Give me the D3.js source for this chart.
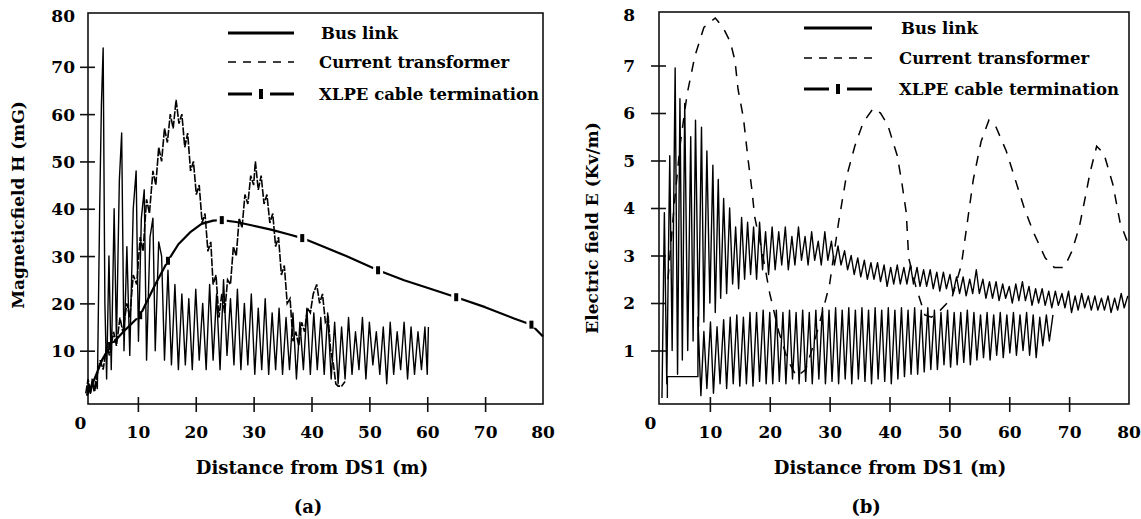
<!DOCTYPE html>
<html>
<head>
<meta charset="utf-8">
<script src="https://cdn.jsdelivr.net/npm/d3@7"></script>
<style>
  body { margin: 0; background: #fff; }
  svg text { font-family: "DejaVu Serif", serif; font-weight: bold; fill: #000; }
</style>
</head>
<body>
<div id="chart"></div>
<script>
// ticks
const distTicks = [0, 10, 20, 30, 40, 50, 60, 70, 80];
const hTicks = [10, 20, 30, 40, 50, 60, 70, 80];
const eTicks = [1, 2, 3, 4, 5, 6, 7, 8];

const seriesNames = ['Bus link', 'Current transformer', 'XLPE cable termination'];

// (a) magnetic field H (mG) vs distance (m)
const hBusLink = [
  [1.2, 0.5], [1.5, 3], [1.8, 1], [2.1, 4], [2.4, 1.5], [2.7, 3.5], [3.0, 2], [3.4, 40], [3.7, 62], [4.0, 74],
  [4.3, 20], [4.6, 4], [5.0, 30], [5.4, 6], [5.9, 40], [6.3, 12], [6.8, 46], [7.2, 56], [7.6, 10], [8.1, 32],
  [8.6, 9], [9.2, 40], [9.7, 48], [10.1, 12], [10.6, 38], [11.1, 44], [11.5, 8], [12.1, 34], [12.6, 38], [13.0, 10],
  [13.6, 33], [14.1, 30], [14.6, 8], [15.2, 27], [15.8, 7], [16.4, 24], [17.0, 6], [17.6, 22], [18.2, 7], [18.8, 21],
  [19.4, 6], [20.0, 23], [20.6, 8], [21.2, 20], [21.8, 6], [22.4, 24], [23.0, 8], [23.6, 22], [24.2, 6], [24.8, 25],
  [25.4, 9], [26.0, 21], [26.6, 7], [27.2, 23], [27.8, 6], [28.4, 20], [29.0, 7], [29.6, 22], [30.2, 5], [30.8, 19],
  [31.4, 6], [32.0, 21], [32.6, 5], [33.2, 18], [33.8, 6], [34.4, 19], [35.0, 5], [35.6, 17], [36.2, 6], [36.8, 18],
  [37.4, 4], [38.0, 16], [38.6, 6], [39.2, 19], [39.8, 5], [40.4, 18], [41.0, 6], [41.6, 17], [42.2, 5], [42.8, 18],
  [43.4, 4], [44.0, 16], [44.6, 3], [45.2, 15], [45.8, 4], [46.4, 17], [47.0, 5], [47.6, 14], [48.2, 6], [48.8, 17],
  [49.4, 4], [50.0, 16], [50.6, 7], [51.2, 14], [51.8, 5], [52.4, 15], [53.0, 3], [53.6, 16], [54.2, 5], [54.8, 14],
  [55.4, 6], [56.0, 16], [56.6, 4], [57.2, 15], [57.8, 5], [58.4, 14], [59.0, 6], [59.6, 15], [60.0, 5], [60.2, 15]
];
const hCurrentTr = [
  [1.0, 1], [1.4, 4], [1.8, 1], [2.2, 3], [2.6, 1.5], [3.0, 5], [3.5, 8], [4.0, 6], [4.6, 11], [5.1, 9],
  [5.8, 14], [6.3, 11], [6.9, 17], [7.4, 14], [8.1, 20], [8.6, 17], [9.2, 26], [9.8, 24], [10.4, 34], [10.9, 31],
  [11.5, 42], [12.0, 39], [12.6, 48], [13.1, 45], [13.6, 53], [14.1, 50], [14.6, 57], [15.1, 54], [15.6, 60], [16.1, 57],
  [16.6, 63], [17.1, 58], [17.6, 60], [18.1, 53], [18.6, 56], [19.1, 48], [19.6, 50], [20.1, 43], [20.6, 45], [21.1, 37],
  [21.6, 39], [22.1, 31], [22.6, 33], [23.0, 24], [23.5, 26], [24.0, 17], [24.5, 22], [25.0, 18], [25.5, 25], [26.0, 24],
  [26.5, 32], [27.0, 30], [27.5, 38], [28.0, 36], [28.5, 43], [29.0, 41], [29.5, 47], [30.0, 45], [30.3, 50], [30.8, 44],
  [31.3, 47], [31.8, 41], [32.3, 43], [32.8, 37], [33.3, 39], [33.8, 32], [34.3, 34], [34.8, 26], [35.3, 28], [35.8, 20],
  [36.3, 21], [36.8, 12], [37.3, 14], [37.8, 11], [38.3, 16], [38.8, 14], [39.3, 19], [39.8, 18], [40.3, 22], [40.9, 24],
  [41.4, 20], [41.9, 22], [42.4, 16], [42.9, 17], [43.3, 10], [43.8, 7], [44.2, 3], [44.6, 2.5], [45.2, 2.5], [45.8, 3.5]
];
const hXlpe = [
  [1.2, 0.5], [2.5, 4], [3.8, 8], [5.2, 11], [7.5, 14], [10.4, 17.5], [13.0, 24], [15.2, 29], [17.0, 32.5], [19.0, 35],
  [21.0, 36.8], [23.0, 37.5], [24.5, 37.6], [27.0, 37.2], [30.0, 36.4], [33.0, 35.6], [36.0, 34.6], [38.4, 33.8], [42.0, 32], [46.0, 30],
  [51.5, 27], [56.0, 24.9], [60.0, 23.3], [65.0, 21.3], [70.0, 19.2], [75.0, 16.8], [78.0, 15.5], [80.0, 13]
];
const hXlpeMarks = [[5.2, 11], [10.4, 17.5], [15.2, 29], [24.5, 37.6], [38.4, 33.8], [51.5, 27], [65.0, 21.3], [78.0, 15.5]];

// (b) electric field E (kV/m) vs distance (m)
const eBusLink = [
  [2.9, 0.0], [2.9, 0.45], [8.0, 0.45], [8.0, 1.7], [8.5, 0.05], [9.0, 1.4], [9.5, 0.2], [10.1, 1.6], [10.6, 0.1], [11.2, 1.5],
  [11.7, 0.3], [12.3, 1.65], [12.8, 0.2], [13.4, 1.7], [13.9, 0.3], [14.5, 1.75], [15.0, 0.25], [15.6, 1.7], [16.1, 0.3], [16.7, 1.8],
  [17.2, 0.25], [17.8, 1.8], [18.3, 0.35], [18.9, 1.85], [19.4, 0.3], [20.0, 1.8], [20.5, 0.3], [21.1, 1.85], [21.6, 0.35], [22.2, 1.8],
  [22.7, 0.3], [23.3, 1.85], [23.8, 0.4], [24.4, 1.8], [24.9, 0.3], [25.5, 1.85], [26.0, 0.35], [26.6, 1.8], [27.1, 0.3], [27.7, 1.85],
  [28.2, 0.4], [28.8, 1.9], [29.3, 0.3], [29.9, 1.85], [30.4, 0.35], [31.0, 1.9], [31.5, 0.3], [32.1, 1.85], [32.6, 0.4], [33.2, 1.9],
  [33.7, 0.3], [34.3, 1.85], [34.8, 0.4], [35.4, 1.9], [35.9, 0.35], [36.5, 1.85], [37.0, 0.3], [37.6, 1.9], [38.1, 0.4], [38.7, 1.85],
  [39.2, 0.35], [39.8, 1.9], [40.3, 0.3], [40.9, 1.85], [41.4, 0.4], [42.0, 1.9], [42.5, 0.45], [43.1, 1.85], [43.6, 0.5], [44.2, 1.9],
  [44.7, 0.5], [45.3, 1.85], [45.8, 0.55], [46.4, 1.9], [46.9, 0.6], [47.5, 1.85], [48.0, 0.6], [48.6, 1.8], [49.1, 0.7], [49.7, 1.85],
  [50.2, 0.65], [50.8, 1.8], [51.3, 0.7], [51.9, 1.8], [52.4, 0.75], [53.0, 1.85], [53.5, 0.7], [54.1, 1.8], [54.6, 0.8], [55.2, 1.75],
  [55.7, 0.85], [56.3, 1.8], [56.8, 0.8], [57.4, 1.75], [57.9, 0.9], [58.5, 1.8], [59.0, 0.85], [59.6, 1.75], [60.1, 0.95], [60.7, 1.8],
  [61.2, 0.9], [61.8, 1.75], [62.3, 1.0], [62.9, 1.8], [63.4, 0.9], [64.0, 1.75], [64.5, 0.85], [65.1, 1.7], [65.6, 1.1], [66.2, 1.75],
  [66.7, 1.2], [67.3, 1.75]
];
const eXlpe = [
  [2.0, 0.0], [2.4, 3.9], [2.8, 0.3], [3.3, 5.1], [3.7, 1.0], [4.2, 6.95], [4.6, 0.5], [5.0, 6.3], [5.4, 0.8], [5.8, 6.2],
  [6.3, 1.0], [6.8, 5.5], [7.2, 1.2], [7.6, 5.85], [8.1, 1.5], [8.6, 5.7], [9.0, 1.6], [9.5, 5.2], [10.0, 2.0], [10.5, 4.9],
  [10.9, 1.8], [11.4, 4.6], [11.8, 2.1], [12.3, 4.2], [12.8, 2.2], [13.3, 4.0], [13.8, 2.4], [14.3, 3.6], [14.8, 2.3], [15.3, 3.8],
  [15.8, 2.5], [16.3, 3.7], [16.8, 2.6], [17.3, 3.6], [17.8, 2.5], [18.3, 3.7], [18.8, 2.7], [19.3, 3.5], [19.8, 2.6], [20.4, 3.6],
  [20.9, 2.7], [21.5, 3.5], [22.0, 2.8], [22.6, 3.6], [23.1, 2.7], [23.7, 3.4], [24.2, 2.8], [24.8, 3.6], [25.3, 2.9], [25.9, 3.4],
  [26.4, 2.8], [27.0, 3.5], [27.5, 2.9], [28.1, 3.3], [28.6, 2.8], [29.2, 3.5], [29.7, 2.9], [30.3, 3.3], [30.8, 2.8], [31.4, 3.2],
  [31.9, 2.8], [32.5, 3.1], [33.0, 2.7], [33.6, 3.0], [34.1, 2.6], [34.7, 2.95], [35.2, 2.55], [35.8, 2.9], [36.3, 2.5], [36.9, 2.85],
  [37.4, 2.5], [38.0, 2.85], [38.5, 2.45], [39.1, 2.8], [39.6, 2.35], [40.2, 2.75], [40.7, 2.4], [41.3, 2.8], [41.8, 2.4], [42.4, 2.75],
  [42.9, 2.4], [43.5, 2.8], [44.0, 2.4], [44.6, 2.75], [45.1, 2.35], [45.7, 2.7], [46.2, 2.35], [46.8, 2.7], [47.3, 2.3], [47.9, 2.65],
  [48.4, 2.25], [49.0, 2.65], [49.5, 2.3], [50.1, 2.6], [50.6, 2.2], [51.2, 2.55], [51.7, 2.2], [52.3, 2.55], [52.8, 2.15], [53.4, 2.5],
  [53.9, 2.2], [54.5, 2.7], [55.0, 2.2], [55.6, 2.5], [56.1, 2.1], [56.7, 2.45], [57.2, 2.1], [57.8, 2.45], [58.3, 2.05], [58.9, 2.4],
  [59.4, 2.1], [60.0, 2.35], [60.5, 2.0], [61.1, 2.4], [61.6, 2.05], [62.2, 2.45], [62.7, 2.05], [63.3, 2.35], [63.8, 1.95], [64.4, 2.3],
  [64.9, 2.0], [65.5, 2.3], [66.0, 1.95], [66.6, 2.25], [67.1, 1.9], [67.7, 2.25], [68.2, 1.95], [68.8, 2.2], [69.3, 1.9], [69.9, 2.25],
  [70.4, 1.8], [71.0, 2.15], [71.5, 1.85], [72.1, 2.2], [72.6, 1.9], [73.2, 2.15], [73.7, 1.85], [74.3, 2.15], [74.8, 1.85], [75.4, 2.1],
  [75.9, 1.85], [76.5, 2.15], [77.0, 1.8], [77.6, 2.1], [78.1, 1.85], [78.7, 2.2], [79.2, 1.9], [79.8, 2.15]
];
const eCurrentTr = [
  [3.0, 2.5], [4.0, 4.0], [5.0, 5.3], [6.2, 6.4], [7.5, 7.2], [9.0, 7.8], [10.9, 8.0], [12.2, 7.8], [13.4, 7.5], [14.2, 7.1],
  [14.7, 6.5], [15.6, 5.9], [16.4, 5.0], [17.0, 4.4], [17.5, 3.8], [18.7, 3.1], [20.0, 2.2], [21.5, 1.4], [23.0, 0.8], [24.5, 0.45],
  [26.0, 0.6], [27.5, 1.2], [29.0, 1.9], [30.0, 2.4], [31.5, 3.7], [32.7, 4.6], [34.2, 5.3], [35.6, 5.8], [37.3, 6.1], [38.5, 6.0],
  [39.7, 5.75], [41.3, 5.1], [42.1, 4.5], [42.8, 3.9], [43.2, 2.95], [44.4, 2.35], [45.9, 1.75], [47.0, 1.7], [48.5, 1.85], [50.4, 2.1],
  [52.0, 2.8], [53.0, 3.7], [54.0, 4.6], [55.3, 5.4], [56.6, 5.85], [57.8, 5.7], [59.5, 5.2], [61.0, 4.6], [62.5, 4.0], [64.0, 3.5],
  [66.0, 2.95], [67.5, 2.75], [69.2, 2.75], [70.5, 3.1], [71.7, 3.6], [72.5, 4.1], [73.5, 4.75], [74.6, 5.3], [75.8, 5.15], [77.3, 4.5],
  [78.5, 3.7], [80.0, 3.2]
];

const Chart = {
  init() {
    this.svg = d3.select('#chart').append('svg')
      .attr('width', 1141)
      .attr('height', 519)
      .style('background', '#fff');

    this.panels = [
      {
        frame: { left: 88, right: 543, top: 13, bottom: 404 },
        xRange: [80, 543], yRange: [398, 19.5], yMax: 80, yTicks: hTicks, labelGap: 13,
        yTitle: 'Magneticfield H (mG)', yTitleX: 18, yTitleY: 205, xTitleX: 312, tag: '(a)', tagX: 308,
        legend: { x1: 228, x2: 294, ys: [33, 62, 94], textX: 319 },
        bus: hBusLink, ct: hCurrentTr, ctDash: '8,1.5', ctWidth: 1.6, xlpe: hXlpe, marks: hXlpeMarks,
      },
      {
        frame: { left: 659, right: 1129, top: 12, bottom: 404 },
        xRange: [650, 1129], yRange: [398, 18], yMax: 8, yTicks: eTicks, labelGap: 24,
        yTitle: 'Electric field E (Kv/m)', yTitleX: 592, yTitleY: 228, xTitleX: 890, tag: '(b)', tagX: 866,
        legend: { x1: 804, x2: 872, ys: [28, 58, 89], textX: 899 },
        bus: eBusLink, ct: eCurrentTr, ctDash: '10,9', ctWidth: 1.5, xlpe: eXlpe, marks: [],
      },
    ];

    this.panels.forEach((p) => this.drawPanel(p));
  },

  drawPanel(p) {
    const g = this.svg.append('g');
    const x = d3.scaleLinear().domain([0, 80]).range(p.xRange);
    const y = d3.scaleLinear().domain([0, p.yMax]).range(p.yRange);
    const f = p.frame;

    // frame
    g.append('rect')
      .attr('x', f.left).attr('y', f.top)
      .attr('width', f.right - f.left).attr('height', f.bottom - f.top)
      .attr('fill', 'none').attr('stroke', '#111').attr('stroke-width', 1.6);

    // y axis
    const ay = d3.axisLeft(y).tickValues(p.yTicks).tickSize(8).tickFormat(d3.format('d'));
    const ayCall = g.append('g').attr('transform', `translate(${f.left},0)`).call(ay);
    ayCall.select('.domain').remove();
    ayCall.selectAll('line')
      .attr('x1', -8).attr('x2', 7)
      .attr('stroke', '#111').attr('stroke-width', 1.6)
      .attr('display', (d) => (d === p.yMax ? 'none' : null));
    ayCall.selectAll('text')
      .attr('x', -p.labelGap)
      .attr('dy', '0.35em')
      .attr('font-size', '17px');
    ayCall.selectAll('.tick').filter((d) => d === p.yMax)
      .attr('transform', `translate(0,${f.top + 3})`);

    // x axis
    const ax = d3.axisBottom(x).tickValues(distTicks).tickSize(8).tickFormat(d3.format('d'));
    const axCall = g.append('g').attr('transform', `translate(0,${f.bottom})`).call(ax);
    axCall.select('.domain').remove();
    axCall.selectAll('line')
      .attr('y1', -7).attr('y2', 8)
      .attr('stroke', '#111').attr('stroke-width', 1.6)
      .attr('display', (d) => (d === 0 || d === 80 ? 'none' : null));
    axCall.selectAll('text')
      .attr('y', (d) => (d === 0 ? 19 : 28))
      .attr('dy', '0.35em')
      .attr('font-size', '17px');
    axCall.selectAll('.tick').filter((d) => d === 80)
      .attr('transform', `translate(${f.right},0)`);

    g.selectAll('.tick text').attr('fill', '#000');

    const line = d3.line()
      .x((d) => x(d[0]))
      .y((d) => y(d[1]))
      .curve(d3.curveLinear);

    // XLPE cable termination
    const xlpeIsZigzag = p.marks.length === 0;
    g.append('path')
      .attr('d', line(p.xlpe))
      .attr('fill', 'none')
      .attr('stroke', '#000')
      .attr('stroke-width', xlpeIsZigzag ? 1.4 : 2.2)
      .attr('stroke-linejoin', 'round');

    g.selectAll('.mark-gap').data(p.marks).join('rect')
      .attr('class', 'mark-gap')
      .attr('x', (d) => x(d[0]) - 5).attr('y', (d) => y(d[1]) - 3)
      .attr('width', 10).attr('height', 6)
      .attr('fill', '#fff');
    g.selectAll('.mark').data(p.marks).join('rect')
      .attr('class', 'mark')
      .attr('x', (d) => x(d[0]) - 2).attr('y', (d) => y(d[1]) - 4)
      .attr('width', 4).attr('height', 8)
      .attr('fill', '#000');

    // current transformer
    g.append('path')
      .attr('d', line(p.ct))
      .attr('fill', 'none')
      .attr('stroke', '#000')
      .attr('stroke-width', p.ctWidth)
      .attr('stroke-dasharray', p.ctDash);

    // bus link
    g.append('path')
      .attr('d', line(p.bus))
      .attr('fill', 'none')
      .attr('stroke', '#000')
      .attr('stroke-width', 1.4)
      .attr('stroke-linejoin', 'round');

    // titles
    g.append('text')
      .attr('transform', `translate(${p.yTitleX},${p.yTitleY}) rotate(-90)`)
      .attr('text-anchor', 'middle')
      .attr('dy', '0.35em')
      .attr('font-size', '17px')
      .text(p.yTitle);

    g.append('text')
      .attr('x', p.xTitleX).attr('y', 468)
      .attr('text-anchor', 'middle')
      .attr('dy', '0.35em')
      .attr('font-size', '18px')
      .text('Distance from DS1 (m)');

    g.append('text')
      .attr('x', p.tagX).attr('y', 507)
      .attr('text-anchor', 'middle')
      .attr('dy', '0.35em')
      .attr('font-size', '18px')
      .text(p.tag);

    this.legend(g, p.legend);
  },

  legend(g, lg) {
    const [y1, y2, y3] = lg.ys;
    const mid = (lg.x1 + lg.x2) / 2;

    g.append('line')
      .attr('x1', lg.x1).attr('x2', lg.x2).attr('y1', y1).attr('y2', y1)
      .attr('stroke', '#000').attr('stroke-width', 3);

    g.append('line')
      .attr('x1', lg.x1).attr('x2', lg.x2).attr('y1', y2).attr('y2', y2)
      .attr('stroke', '#000').attr('stroke-width', 1.5)
      .attr('stroke-dasharray', '8,7');

    g.append('line')
      .attr('x1', lg.x1).attr('x2', mid - 9).attr('y1', y3).attr('y2', y3)
      .attr('stroke', '#000').attr('stroke-width', 3);
    g.append('line')
      .attr('x1', mid + 9).attr('x2', lg.x2).attr('y1', y3).attr('y2', y3)
      .attr('stroke', '#000').attr('stroke-width', 3);
    g.append('rect')
      .attr('x', mid - 2).attr('y', y3 - 5)
      .attr('width', 4).attr('height', 10)
      .attr('fill', '#000');

    g.selectAll('.legend-label').data(seriesNames).join('text')
      .attr('class', 'legend-label')
      .attr('x', (d, i) => lg.textX - (i === 0 ? -2 : 0))
      .attr('y', (d, i) => lg.ys[i])
      .attr('dy', '0.35em')
      .attr('font-size', '16.5px')
      .text((d) => d);
  },
};

Chart.init();
</script>
</body>
</html>
